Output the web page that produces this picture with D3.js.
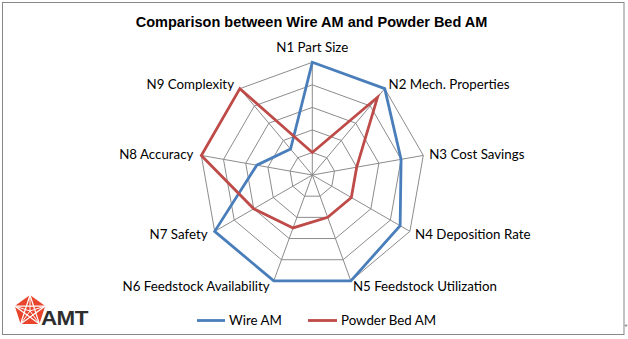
<!DOCTYPE html>
<html>
<head>
<meta charset="utf-8">
<script src="https://cdn.jsdelivr.net/npm/d3@7"></script>
<style>
  html, body { margin: 0; padding: 0; background: #fff; }
  svg { display: block; }
</style>
</head>
<body>
<div id="chart"></div>
<script>
// Criteria scored for each additive manufacturing process (scale 0–5)
const categories = [
  "N1 Part Size", "N2 Mech. Properties", "N3 Cost Savings", "N4 Deposition Rate",
  "N5 Feedstock Utilization", "N6 Feedstock Availability", "N7 Safety",
  "N8 Accuracy", "N9 Complexity"
];
const wireAM = [5, 5, 4, 4.5, 5, 5, 5, 2.5, 1.5];
const powderBedAM = [1, 4.5, 2, 2, 2, 2.5, 3, 5, 5];
const seriesNames = ["Wire AM", "Powder Bed AM"];
const seriesColors = ["#4a7ebb", "#be4b48"];
const gridLevels = [1, 2, 3, 4, 5];

const W = 628, H = 339;
const cx = 312.3, cy = 175, R = 112.7;
const labelFont = "Lato, 'Open Sans', sans-serif";

const svg = d3.select("#chart").append("svg")
  .attr("width", W).attr("height", H);

svg.append("rect").attr("width", W).attr("height", H).attr("fill", "#fff");

// Chart area frame
svg.append("rect")
  .attr("x", 2.5).attr("y", 2.5).attr("width", 621.5).attr("height", 332)
  .attr("fill", "none").attr("stroke", "#878787").attr("stroke-width", 1);
// small handle mark at the lower right edge
svg.append("path").attr("d", "M624.5,325.5h3M626,324v3")
  .attr("stroke", "#999").attr("stroke-width", 1);

// Title
svg.append("text")
  .attr("x", 311.5).attr("y", 27)
  .attr("text-anchor", "middle")
  .attr("font-family", "'Liberation Sans', Arial, sans-serif")
  .attr("font-weight", "bold").attr("font-size", 14.5)
  .attr("fill", "#000")
  .text("Comparison between Wire AM and Powder Bed AM");

const n = categories.length;
const angle = d3.scaleLinear().domain([0, n]).range([0, 2 * Math.PI]);
const r = d3.scaleLinear().domain([0, 5]).range([0, R]);

const pt = (i, v) => [cx + Math.sin(angle(i)) * r(v), cy - Math.cos(angle(i)) * r(v)];

const g = svg.append("g");

// Grid rings
gridLevels.forEach(lv => {
  g.append("path")
    .attr("d", d3.line()(d3.range(n).map(i => pt(i, lv))) + "Z")
    .attr("fill", "none").attr("stroke", "#8c8c8c").attr("stroke-width", 1);
});
// Spokes
d3.range(n).forEach(i => {
  const [x, y] = pt(i, 5);
  g.append("line").attr("x1", cx).attr("y1", cy).attr("x2", x).attr("y2", y)
    .attr("stroke", "#8c8c8c").attr("stroke-width", 1);
});

// Series polygons
[wireAM, powderBedAM].forEach((vals, s) => {
  g.append("path")
    .attr("d", d3.line()(vals.map((v, i) => pt(i, v))) + "Z")
    .attr("fill", "none")
    .attr("stroke", seriesColors[s])
    .attr("stroke-width", 2.8)
    .attr("stroke-linejoin", "miter");
});

// Category labels
categories.forEach((c, i) => {
  const a = angle(i);
  const s = Math.sin(a), co = Math.cos(a);
  let [x, y] = pt(i, 5);
  x += s * 6; y -= co * 6;
  let anchor = "middle";
  if (s > 0.1) anchor = "start";
  else if (s < -0.1) { anchor = "end"; x -= 2; }
  else y -= 9;
  g.append("text")
    .attr("x", x).attr("y", y)
    .attr("dy", "0.35em")
    .attr("text-anchor", anchor)
    .attr("font-family", labelFont).attr("font-size", 13.3)
    .attr("fill", "#000")
    .text(c);
});

// Legend
const legend = svg.append("g");
const legendItems = [
  { x1: 197, x2: 225, tx: 229 },
  { x1: 308, x2: 337, tx: 341 }
];
legendItems.forEach((it, s) => {
  legend.append("line")
    .attr("x1", it.x1).attr("x2", it.x2).attr("y1", 320.5).attr("y2", 320.5)
    .attr("stroke", seriesColors[s]).attr("stroke-width", 2.8);
  legend.append("text")
    .attr("x", it.tx).attr("y", 320.5).attr("dy", "0.35em")
    .attr("font-family", labelFont).attr("font-size", 13.3)
    .attr("fill", "#000")
    .text(seriesNames[s]);
});

// AMT logo: red pentagon emblem with the company lettering
const logo = svg.append("g");
const pc = [30, 311], pr = 16;
const pent = d3.range(5).map(k => {
  const a = -Math.PI / 2 + k * 2 * Math.PI / 5;
  return [pc[0] + pr * Math.cos(a), pc[1] + pr * Math.sin(a)];
});
logo.append("path").attr("d", d3.line()(pent) + "Z").attr("fill", "#e8452c");
const star = [0, 2, 4, 1, 3].map(k => pent[k]);
logo.append("path").attr("d", d3.line()(star) + "Z")
  .attr("fill", "none").attr("stroke", "#fff").attr("stroke-width", 1.2);
pent.forEach(p => {
  logo.append("line").attr("x1", pc[0]).attr("y1", pc[1]).attr("x2", p[0]).attr("y2", p[1])
    .attr("stroke", "#fff").attr("stroke-width", 1);
});
logo.append("text")
  .attr("x", 41).attr("y", 325.5)
  .attr("font-family", "'Liberation Sans', Arial, sans-serif")
  .attr("font-weight", "bold").attr("font-size", 20)
  .attr("letter-spacing", "-0.5")
  .attr("fill", "#2e2e2e")
  .attr("transform", "translate(41,325.5) scale(1.12,1) translate(-41,-325.5)")
  .text("AMT");
</script>
</body>
</html>
